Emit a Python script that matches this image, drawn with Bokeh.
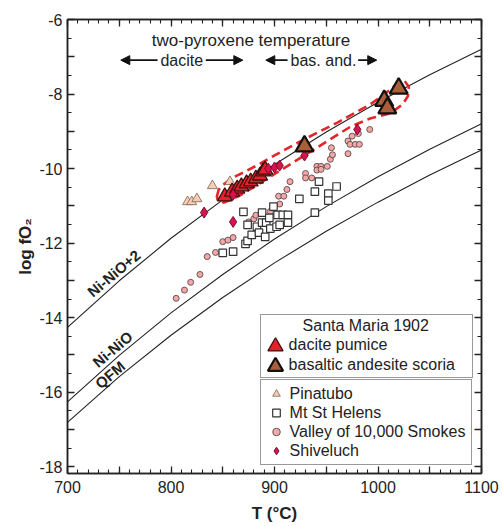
from bokeh.plotting import figure
from bokeh.models import (Range1d, LinearAxis, FixedTicker, CustomLabelingPolicy,
                          CustomJSTickFormatter, Arrow, NormalHead, Legend, LegendItem,
                          ColumnDataSource)
from bokeh.core.properties import value
from bokeh.embed import file_html
from bokeh.resources import INLINE

FONT = "Liberation Sans"

# ---------------- data ----------------
# oxygen buffer curves (T in degC, log fO2)
buffer_T = [700, 750, 800, 850, 900, 950, 1000, 1050, 1100]
nno2_L = [-14.26, -13.01, -11.87, -10.84, -9.89, -9.02, -8.22, -7.48, -6.80]
nno_L = [-16.26, -15.01, -13.87, -12.84, -11.89, -11.02, -10.22, -9.48, -8.80]
qfm_L = [-16.81, -15.58, -14.47, -13.46, -12.53, -11.68, -10.90, -10.17, -9.50]

buffer_names = ["Ni-NiO+2", "Ni-NiO", "QFM"]
buffer_label_T = [744.7, 743.5, 741.0]
buffer_label_L = [-12.81, -14.85, -15.53]

# Santa Maria 1902
dacite_T = [852, 859, 864, 868, 873, 877, 882, 886, 889, 891]
dacite_L = [-10.75, -10.62, -10.54, -10.48, -10.40, -10.35, -10.27, -10.19, -10.08, -10.03]
scoria_T = [929, 1006, 1009, 1020]
scoria_L = [-9.40, -8.18, -8.38, -7.85]

# Pinatubo
pina_T = [816, 820, 825, 840, 857]
pina_L = [-10.89, -10.89, -10.81, -10.46, -10.35]

# Mt St Helens
msh_T = [850, 860, 870, 872, 874, 878, 874, 883, 885, 888, 888, 892, 891, 895,
         896, 899, 902, 903, 905, 908, 913, 913, 924, 939, 943, 952, 952, 960, 939]
msh_L = [-12.26, -12.23, -11.16, -12.02, -11.94, -11.78, -11.51, -11.56, -11.72,
         -11.18, -11.45, -11.45, -11.83, -11.32, -11.61, -11.02, -11.56, -11.24,
         -11.51, -11.24, -11.24, -11.45, -10.81, -10.62, -10.35, -10.67, -10.86,
         -10.48, -11.18]

# Valley of 10,000 Smokes
vtts_T = [805, 813, 819, 828, 835, 843, 850, 855, 860, 875, 880, 882, 884, 896,
          899, 905, 904, 909, 912, 915, 930, 930, 936, 941, 941, 945, 945, 951,
          954, 956, 955, 971, 971, 975, 973, 978, 982, 981, 992]
vtts_L = [-13.48, -13.26, -13.05, -12.84, -12.36, -12.25, -11.96, -11.92, -11.85,
          -11.43, -11.35, -11.25, -11.69, -11.15, -11.02, -10.95, -10.74, -10.74,
          -10.56, -10.35, -10.13, -10.25, -10.25, -9.94, -10.04, -9.94, -10.02,
          -9.94, -9.75, -9.63, -9.44, -9.60, -9.26, -9.13, -9.35, -9.35, -9.35,
          -9.06, -8.95]

# Shiveluch
shiv_T = [832, 860, 860, 894, 900, 905, 929, 980]
shiv_L = [-11.18, -11.43, -10.70, -10.00, -9.97, -9.92, -9.65, -8.95]

# dashed envelope around Santa Maria samples
env_T = [844.3, 846.2, 852.0, 859.7, 870.3, 884.8, 896.4, 928.3, 961.2, 993.0,
         1012.4, 1020.1, 1025.9, 1029.8, 1028.8, 1024.0, 1012.4, 993.0, 973.7,
         935.1, 896.4, 883.9, 864.6, 851.1, 845.3]
env_L = [-10.75, -10.56, -10.40, -10.24, -10.10, -9.89, -9.70, -9.22, -8.76, -8.27,
         -7.87, -7.68, -7.65, -7.81, -8.06, -8.27, -8.51, -8.65, -8.87, -9.54,
         -10.21, -10.43, -10.75, -10.91, -10.86]

# two-pyroxene temperature annotation
ann_text = ["two-pyroxene temperature", "dacite", "bas. and."]
ann_T = [877.3, 810.4, 947.3]
ann_L = [-6.57, -7.09, -7.09]
ann_size = ["17px", "16px", "16px"]
arrow_T0 = [787.0, 833.6, 912.6, 980.8]
arrow_T1 = [751.5, 869.4, 891.6, 998.8]
arrow_L = [-7.09, -7.09, -7.09, -7.09]

group_title = "Santa Maria 1902"

# ---------------- figure ----------------
p = figure(width=500, height=525, x_range=Range1d(700, 1100), y_range=Range1d(-18.18, -6),
           output_backend="svg", toolbar_location=None,
           min_border_left=67, min_border_right=19, min_border_top=19, min_border_bottom=52)
p.xgrid.visible = False
p.ygrid.visible = False
p.outline_line_color = "#222222"
p.outline_line_width = 1.5
p.background_fill_color = "white"
p.border_fill_color = "white"

xticker = FixedTicker(ticks=list(range(700, 1101, 50)), minor_ticks=list(range(700, 1101, 10)))
yticker = FixedTicker(ticks=list(range(-18, -5)), minor_ticks=[-18 + 0.5 * i for i in range(25)])

every_other = "for (const i of indices) { if (i % 2 == 0) yield i }"
none_shown = "return []"

def style_axis(ax, ticker, labels=True):
    ax.ticker = ticker
    ax.axis_line_color = "#222222"
    ax.axis_line_width = 1.5
    ax.major_tick_line_color = "#222222"
    ax.minor_tick_line_color = "#222222"
    ax.major_tick_line_width = 1.3
    ax.minor_tick_line_width = 1.1
    ax.major_tick_in = 7
    ax.major_tick_out = 0
    ax.minor_tick_in = 4
    ax.minor_tick_out = 0
    ax.major_label_text_font = FONT
    ax.major_label_text_color = "#222222"
    if labels:
        ax.major_label_text_font_size = "16px"
        ax.major_label_policy = CustomLabelingPolicy(code=every_other)
        ax.formatter = CustomJSTickFormatter(code="return tick.toFixed(0)")
    else:
        ax.major_label_text_font_size = "1px"
        ax.major_label_standoff = 0
        ax.major_label_policy = CustomLabelingPolicy(code=none_shown)

xa = p.xaxis[0]
ya = p.yaxis[0]
style_axis(xa, xticker)
style_axis(ya, yticker)
xa.major_label_standoff = 7
ya.major_label_standoff = 5
xa.axis_label = "T (°C)"
ya.axis_label = "log fO₂"
for ax in (xa, ya):
    ax.axis_label_text_font = FONT
    ax.axis_label_text_font_style = "bold"
    ax.axis_label_text_font_size = "17px"
    ax.axis_label_text_color = "#222222"
xa.axis_label_standoff = 8
ya.axis_label_standoff = 1

top_ax = LinearAxis()
style_axis(top_ax, xticker, labels=False)
p.add_layout(top_ax, "above")
right_ax = LinearAxis()
style_axis(right_ax, yticker, labels=False)
p.add_layout(right_ax, "right")

# buffer curves
for L in (nno2_L, nno_L, qfm_L):
    p.line(buffer_T, L, line_color="#222222", line_width=1.1)
p.text(buffer_label_T, buffer_label_L, text=buffer_names, angle=40, angle_units="deg",
       text_font=value(FONT), text_font_style="bold", text_font_size="15px",
       text_align="center", text_baseline="middle", text_color="#222222")

# envelope
p.patch(env_T, env_L, fill_color=None, line_color="#e3262b", line_width=2.6, line_dash="9 5")

# data
r_vtts = p.scatter(vtts_T, vtts_L, marker="circle", size=6, fill_color="#f3a7a7",
                   line_color="#5a4a4a", line_width=0.9)
r_msh = p.scatter(msh_T, msh_L, marker="square", size=7.5, fill_color="white",
                  line_color="#333333", line_width=1.2)
r_pina = p.scatter(pina_T, pina_L, marker="triangle", size=10, fill_color="#f8cdb3",
                   line_color="#8a7060", line_width=0.9)
r_dac = p.scatter(dacite_T, dacite_L, marker="triangle", size=15, fill_color="#e8202a",
                  line_color="#3a1212", line_width=1.3)
r_shiv = p.scatter(shiv_T, shiv_L, marker="diamond", size=11, fill_color="#d7124f",
                   line_color="#6a0a25", line_width=0.9)
r_sco = p.scatter(scoria_T, scoria_L, marker="triangle", size=18, fill_color="#a9603a",
                  line_color="#111111", line_width=2.2)

# two-pyroxene annotation
p.text(ann_T, ann_L, text=ann_text, text_font=value(FONT), text_font_size=ann_size,
       text_align="center", text_baseline="middle", text_color="#222222")
arr_src = ColumnDataSource(dict(x0=arrow_T0, x1=arrow_T1, y=arrow_L))
p.add_layout(Arrow(end=NormalHead(size=9, fill_color="#111111", line_color="#111111", line_width=1),
                   x_start="x0", y_start="y", x_end="x1", y_end="y", source=arr_src,
                   line_color="#111111", line_width=1.6))

# legends
common = dict(label_text_font=FONT, label_text_font_size="16px",
              label_text_color="#222222", margin=0, orientation="vertical")
boxed = dict(border_line_color="#333333", border_line_width=1.2, background_fill_color="white",
             background_fill_alpha=1.0)
clear = dict(border_line_alpha=0.0, background_fill_alpha=0.0)

leg1 = Legend(items=[LegendItem(label="dacite pumice", renderers=[r_dac]),
                     LegendItem(label="basaltic andesite scoria", renderers=[r_sco])],
              location=(192.6, 95), padding=2, spacing=0, glyph_width=26, glyph_height=20,
              label_standoff=0, label_width=181, label_height=20,
              title="\u00a0" * 9 + group_title, title_text_font=FONT,
              title_text_font_size="16px", title_text_font_style="normal",
              title_text_color="#222222", title_standoff=-3, **common, **boxed)
legA = Legend(items=[LegendItem(label="\u00a0", renderers=[r_dac])],
              location=(189.3, 108), padding=0, spacing=0, glyph_width=38, glyph_height=38,
              label_standoff=0, label_width=0, label_height=0, label_text_font_size="2px",
              margin=0, orientation="vertical", **clear)
legB = Legend(items=[LegendItem(label="\u00a0", renderers=[r_sco])],
              location=(189.3, 88), padding=0, spacing=0, glyph_width=38, glyph_height=38,
              label_standoff=0, label_width=0, label_height=0, label_text_font_size="2px",
              margin=0, orientation="vertical", **clear)
leg2 = Legend(items=[LegendItem(label="Pinatubo", renderers=[r_pina]),
                     LegendItem(label="Mt St Helens", renderers=[r_msh]),
                     LegendItem(label="Valley of 10,000 Smokes", renderers=[r_vtts]),
                     LegendItem(label="Shiveluch", renderers=[r_shiv])],
              location=(192.6, 8), padding=4, spacing=0, glyph_width=22, glyph_height=19,
              label_standoff=3, label_width=177, label_height=19, **common, **boxed)
p.add_layout(leg1, "center")
p.add_layout(legA, "center")
p.add_layout(legB, "center")
p.add_layout(leg2, "center")

open("out.html", "w").write(file_html(p, INLINE))
